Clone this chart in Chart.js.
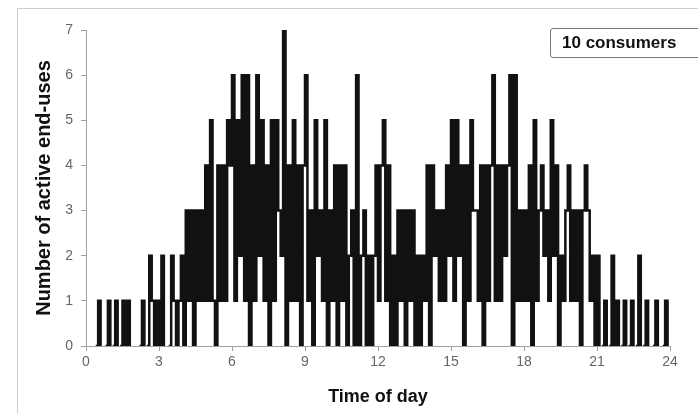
<!DOCTYPE html>
<html>
<head>
<meta charset="utf-8">
<script src="https://cdn.jsdelivr.net/npm/chart.js@4/dist/chart.umd.min.js"></script>
<style>
  html, body { margin: 0; padding: 0; background: #fff; overflow: hidden; }
  #wrap { position: relative; width: 698px; height: 414px; }
  #frame { position: absolute; left: 17px; top: 8px; width: 700px; height: 420px; border: 1px solid #cfcfcf; box-sizing: border-box; }
  #tag { position: absolute; left: 550px; top: 28px; width: 160px; height: 30px; border: 1px solid #777; border-radius: 3px;
         box-sizing: border-box; font: bold 17px Arial, "Liberation Sans", sans-serif; color: #111; line-height: 28px; padding-left: 11px; }
  canvas { position: absolute; left: 0; top: 0; }
</style>
</head>
<body>
<div id="wrap">
  <div id="frame"></div>
  <canvas id="chart" width="698" height="414"></canvas>
  <div id="tag">10 consumers</div>
</div>
<script>
// active end-uses, one value per 6-minute slot (10 per hour)
const slotHours = 0.1;
const activeUses = [
  0,0,0,0,0,1,0,0,0,1,  // 0h
  0,0,1,0,0,1,0,1,0,0,  // 1h
  0,0,0,1,0,0,2,1,0,1,  // 2h
  0,2,0,0,0,2,1,0,1,2,  // 3h
  0,3,1,3,0,3,1,3,1,4,  // 4h
  1,5,1,0,4,1,4,1,5,4,  // 5h
  6,1,5,2,6,1,6,0,4,1,  // 6h
  6,2,5,1,4,0,5,1,5,3,  // 7h
  2,7,0,4,1,5,1,4,0,4,  // 8h
  6,1,3,0,5,2,3,1,5,0,  // 9h
  3,1,4,0,4,1,4,0,2,3,  // 10h
  0,6,0,2,3,0,2,0,2,4,  // 11h
  1,4,5,1,4,0,2,0,3,1,  // 12h
  3,0,3,1,3,0,2,0,2,1,  // 13h
  4,0,4,2,3,1,3,1,4,2,  // 14h
  5,1,5,2,4,0,4,1,5,3,  // 15h
  3,1,4,0,4,1,4,6,1,4,  // 16h
  1,4,2,4,6,0,6,1,3,1,  // 17h
  3,1,4,0,5,1,3,4,2,3,  // 18h
  1,5,2,4,0,2,1,3,4,1,  // 19h
  3,1,3,0,3,4,3,1,2,0,  // 20h
  2,0,0,1,0,0,2,0,1,0,  // 21h
  0,1,0,0,1,0,0,2,0,0,  // 22h
  1,0,0,0,1,0,0,0,1,0   // 23h
];
const xTicks = [0, 3, 6, 9, 12, 15, 18, 21, 24];
const yTicks = [0, 1, 2, 3, 4, 5, 6, 7];

const points = activeUses.map((v, i) => ({ x: +(i * slotHours).toFixed(2), y: v }));
points.push({ x: 24, y: 0 });

const axisGray = '#a0a0a0';
const lineColor = '#111';
const tickFont = { family: 'Arial, "Liberation Sans", sans-serif', size: 14 };
const titleFont = { family: 'Arial, "Liberation Sans", sans-serif', size: 18, weight: 'bold' };

new Chart(document.getElementById('chart'), {
  type: 'line',
  data: {
    datasets: [{
      label: '10 consumers',
      data: points,
      stepped: true,
      borderColor: lineColor,
      borderWidth: 2.5,
      pointRadius: 0,
      fill: false,
      segment: {
        // idle stretches lying on the axis are not drawn
        borderColor: c => (c.p0.parsed.y === 0 && c.p1.parsed.y === 0) ? 'rgba(0,0,0,0)' : lineColor
      }
    }]
  },
  options: {
    responsive: false,
    animation: false,
    layout: { padding: { left: 18, right: 28, top: 30, bottom: 0 } },
    plugins: { legend: { display: false }, tooltip: { enabled: false } },
    scales: {
      x: {
        type: 'linear',
        min: 0, max: 24,
        afterBuildTicks: s => { s.ticks = xTicks.map(v => ({ value: v })); },
        afterFit: s => { s.height = 68; },
        ticks: { color: '#666', font: tickFont, padding: 3, maxRotation: 0 },
        grid: { drawOnChartArea: false, tickLength: 5, color: axisGray },
        border: { color: axisGray },
        title: { display: true, text: 'Time of day', color: '#111', font: titleFont, padding: { top: 0, bottom: 6 } }
      },
      y: {
        min: 0, max: 7,
        afterBuildTicks: s => { s.ticks = yTicks.map(v => ({ value: v })); },
        afterFit: s => { s.width = 68; },
        ticks: { color: '#666', font: tickFont, padding: 8 },
        grid: { drawOnChartArea: false, tickLength: 5, color: axisGray },
        border: { color: axisGray },
        title: { display: true, text: 'Number of active end-uses', color: '#111', font: { ...titleFont, size: 20 }, padding: { top: 14, bottom: 0 } }
      }
    }
  }
});
</script>
</body>
</html>
